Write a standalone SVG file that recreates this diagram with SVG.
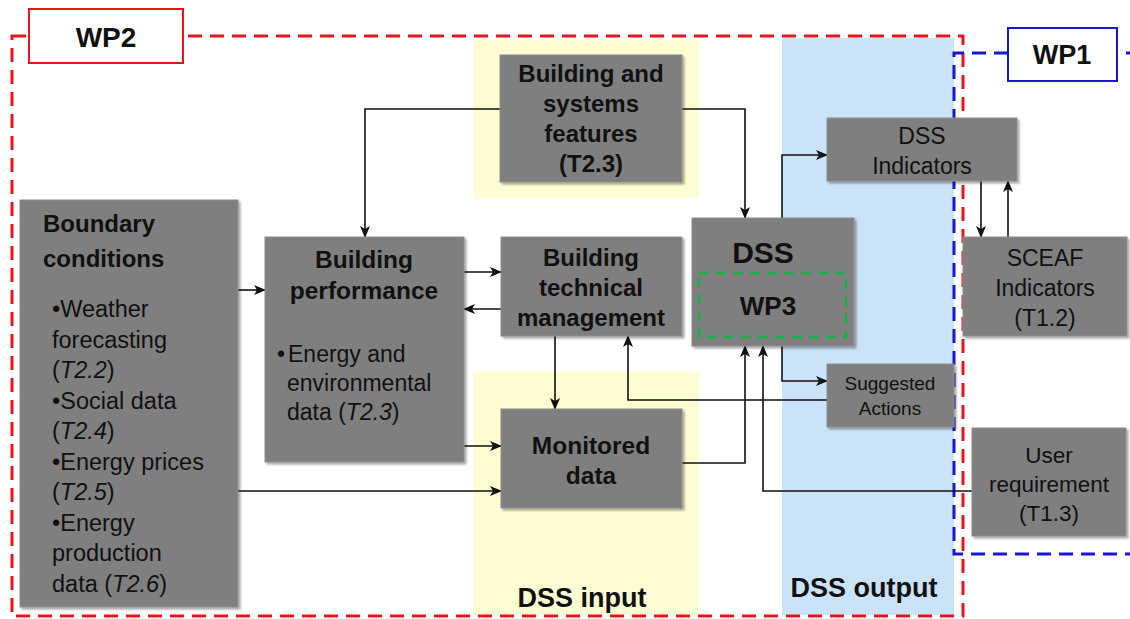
<svg xmlns="http://www.w3.org/2000/svg" width="1130" height="619" viewBox="0 0 1130 619">
  <style>
    .band-y { fill: #fefcd2; }
    .band-b { fill: #cbe3f9; }
    .node { fill: #7f7f7f; stroke: #8e8e8e; stroke-width: 1; filter: url(#shadow); }
    .t { font-family: "Liberation Sans", Arial, sans-serif; fill: #111; }
    .b { font-weight: bold; }
    .c { text-anchor: middle; }
    .conn { fill: none; stroke: #111; stroke-width: 1.6; }
    .arr { marker-end: url(#ah); }
  </style>
  <defs>
    <filter id="shadow" x="-10%" y="-10%" width="125%" height="125%">
      <feDropShadow dx="2" dy="2" stdDeviation="1.2" flood-color="#000" flood-opacity="0.35"/>
    </filter>
    <marker id="ah" viewBox="0 0 12 10" refX="11" refY="5" markerWidth="12" markerHeight="10" markerUnits="userSpaceOnUse" orient="auto">
      <path d="M0,0 L12,5 L0,10 L3,5 Z" fill="#111"/>
    </marker>
  </defs>

  <rect width="1130" height="619" fill="#fff"/>

  <!-- background bands -->
  <rect class="band-y" x="473" y="40" width="226" height="158"/>
  <rect class="band-y" x="473" y="372" width="226" height="243"/>
  <rect class="band-b" x="782" y="38" width="172" height="577"/>

  <!-- work package borders -->
  <rect x="12" y="36" width="951" height="580" fill="none" stroke="#e8151b" stroke-width="3" stroke-dasharray="14 8"/>
  <path d="M1140,53 H954 V554 H1140" fill="none" stroke="#1616d6" stroke-width="3" stroke-dasharray="14 8"/>

  <g id="wp2-label">
    <rect x="29" y="9" width="154" height="54" fill="#fff" stroke="#e8151b" stroke-width="2"/>
    <text class="t b c" x="106" y="47" font-size="28">WP2</text>
  </g>
  <g id="wp1-label">
    <rect x="1008" y="28" width="109" height="53" fill="#fff" stroke="#1616d6" stroke-width="2"/>
    <text class="t b c" x="1062" y="64" font-size="27">WP1</text>
  </g>

  <!-- connectors -->
  <g id="connectors">
    <path class="conn arr" d="M500,109 H365 V237"/>
    <path class="conn arr" d="M682,109 H745 V218"/>
    <path class="conn arr" d="M238,290 H265"/>
    <path class="conn arr" d="M238,491 H501"/>
    <path class="conn arr" d="M464,272 H501"/>
    <path class="conn arr" d="M501,309 H464"/>
    <path class="conn arr" d="M464,446 H501"/>
    <path class="conn arr" d="M555,336 V409"/>
    <path class="conn arr" d="M682,463 H745 V346"/>
    <path class="conn arr" d="M973,491 H763 V346"/>
    <path class="conn arr" d="M782,218 V155 H827"/>
    <path class="conn arr" d="M782,346 V381 H827"/>
    <path class="conn arr" d="M827,400 H628 V336"/>
    <path class="conn arr" d="M981,181 V237"/>
    <path class="conn arr" d="M1008,237 V181"/>
  </g>

  <g id="boundary-conditions">
    <rect class="node" x="20" y="200" width="218" height="407"/>
    <text class="t b" x="43" y="232" font-size="24">Boundary</text>
    <text class="t b" x="43" y="267" font-size="24">conditions</text>
    <g class="t" font-size="23.5">
      <text x="52" y="317">•Weather</text>
      <text x="52" y="347.5">forecasting</text>
      <text x="52" y="378">(<tspan font-style="italic">T2.2</tspan>)</text>
      <text x="52" y="408.5">•Social data</text>
      <text x="52" y="439">(<tspan font-style="italic">T2.4</tspan>)</text>
      <text x="52" y="469.5">•Energy prices</text>
      <text x="52" y="500">(<tspan font-style="italic">T2.5</tspan>)</text>
      <text x="52" y="530.5">•Energy</text>
      <text x="52" y="561">production</text>
      <text x="52" y="591.5">data (<tspan font-style="italic">T2.6</tspan>)</text>
    </g>
  </g>

  <g id="building-systems-features">
    <rect class="node" x="500" y="55" width="182" height="127"/>
    <g class="t b c" font-size="24">
      <text x="591" y="82">Building and</text>
      <text x="591" y="112">systems</text>
      <text x="591" y="142">features</text>
      <text x="591" y="172">(T2.3)</text>
    </g>
  </g>

  <g id="building-performance">
    <rect class="node" x="265" y="237" width="199" height="225"/>
    <text class="t b c" x="364" y="268" font-size="24.5">Building</text>
    <text class="t b c" x="364" y="299" font-size="24.5">performance</text>
    <g class="t" font-size="23">
      <text x="277" y="362">•</text>
      <text x="288" y="362">Energy and</text>
      <text x="287" y="391">environmental</text>
      <text x="287" y="420">data (<tspan font-style="italic">T2.3</tspan>)</text>
    </g>
  </g>

  <g id="building-technical-management">
    <rect class="node" x="501" y="237" width="181" height="99"/>
    <g class="t b c" font-size="24">
      <text x="591" y="266">Building</text>
      <text x="591" y="296">technical</text>
      <text x="591" y="326">management</text>
    </g>
  </g>

  <g id="monitored-data">
    <rect class="node" x="501" y="409" width="181" height="99"/>
    <text class="t b c" x="591" y="454" font-size="24.5">Monitored</text>
    <text class="t b c" x="591" y="484" font-size="24.5">data</text>
  </g>

  <g id="dss">
    <rect class="node" x="692" y="218" width="162" height="128"/>
    <text class="t b c" x="763" y="263" font-size="30">DSS</text>
    <rect x="699" y="273" width="147" height="64" fill="none" stroke="#19b04a" stroke-width="2.5" stroke-dasharray="10 7"/>
    <text class="t b c" x="768" y="315" font-size="26">WP3</text>
  </g>

  <g id="dss-indicators">
    <rect class="node" x="827" y="118" width="190" height="63"/>
    <text class="t c" x="922" y="144" font-size="23">DSS</text>
    <text class="t c" x="922" y="174" font-size="23">Indicators</text>
  </g>

  <g id="suggested-actions">
    <rect class="node" x="827" y="364" width="127" height="63"/>
    <text class="t c" x="890" y="390" font-size="19">Suggested</text>
    <text class="t c" x="890" y="415" font-size="19">Actions</text>
  </g>

  <g id="sceaf-indicators">
    <rect class="node" x="963" y="237" width="164" height="99"/>
    <g class="t c" font-size="23">
      <text x="1045" y="266">SCEAF</text>
      <text x="1045" y="296">Indicators</text>
      <text x="1045" y="326">(T1.2)</text>
    </g>
  </g>

  <g id="user-requirement">
    <rect class="node" x="972" y="428" width="154" height="108"/>
    <g class="t c" font-size="22.5">
      <text x="1049" y="463">User</text>
      <text x="1049" y="492">requirement</text>
      <text x="1049" y="521">(T1.3)</text>
    </g>
  </g>

  <!-- band captions -->
  <text class="t b c" x="582" y="607" font-size="27">DSS input</text>
  <text class="t b c" x="864" y="597" font-size="27">DSS output</text>
</svg>
